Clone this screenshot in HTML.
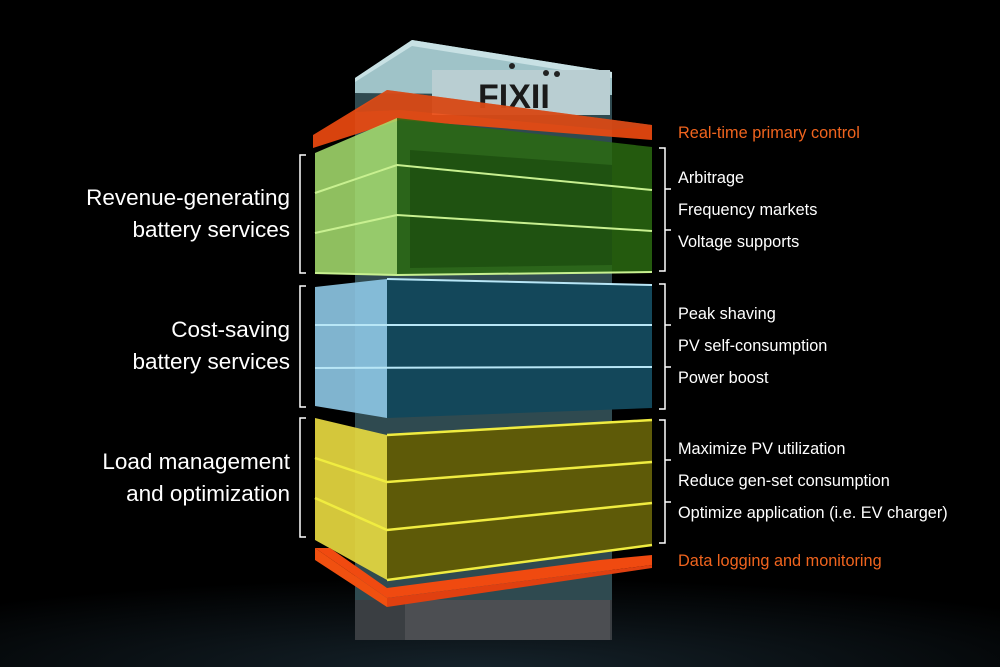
<!DOCTYPE html>
<html><head><meta charset="utf-8"><style>
html,body{margin:0;padding:0;background:#000;overflow:hidden;}
body{width:1000px;height:667px;overflow:hidden;position:relative;font-family:"Liberation Sans",sans-serif;}
svg{display:block;}
.l{position:absolute;right:710px;color:#fff;font-size:22.5px;line-height:32px;text-align:right;white-space:nowrap;}
.r{position:absolute;left:678px;color:#fff;font-size:16.3px;white-space:nowrap;}
.o{color:#f0641e;}
</style></head><body>
<svg width="1000" height="667" viewBox="0 0 1000 667" style="position:absolute;left:0;top:0">
<defs>
<radialGradient id="fl" cx="0.48" cy="1" r="0.7"><stop offset="0" stop-color="#15222a"/><stop offset="1" stop-color="#000"/></radialGradient>
</defs>
<rect x="0" y="540" width="1000" height="127" fill="url(#fl)"/>
<rect x="355" y="90" width="257" height="550" fill="#2f4a50"/>
<rect x="355" y="600" width="257" height="40" fill="#3a3e42"/>
<rect x="405" y="600" width="205" height="40" fill="#4c4e52"/>
<polygon points="355,78 412,40 612,72 612,95 355,93" fill="#9fc3c8"/>
<polygon points="412,40 612,72 612,78 412,46 355,82 355,78" fill="#c8e1e4"/>
<rect x="432" y="70" width="178" height="45" fill="#b9ced2"/>
<text x="478" y="108" font-size="34" font-weight="bold" fill="#1a1a1a" font-family="Liberation Sans">FIXII</text>
<circle cx="512" cy="66" r="3" fill="#222"/><circle cx="546" cy="73" r="3" fill="#222"/><circle cx="557" cy="74" r="3" fill="#222"/>
<polygon points="313,135 387,90 652,125 652,140 400,120 313,148" fill="#f04a10" opacity="0.9"/>
<polygon points="355,112 387,90 652,125 612,130 400,110" fill="#c84a1a" opacity="0.6"/>
<polygon points="315,153 397,118 397,275 315,273" fill="#a8e070" opacity="0.85"/>
<polygon points="397,118 652,147 652,272 397,275" fill="#2a6a10" opacity="0.85"/>
<polygon points="410,150 612,165 612,265 410,268" fill="#1b4a0e" opacity="0.7"/>
<g stroke="#c8f090" stroke-width="2" fill="none"><polyline points="315,193 397,165 652,190"/><polyline points="315,233 397,215 652,231"/><polyline points="315,273 397,275 652,272"/></g>
<polygon points="315,287 387,279 387,418 315,406" fill="#8ec8e6" opacity="0.9"/>
<polygon points="387,279 652,285 652,408 387,418" fill="#13475a"/>
<g stroke="#b8e6f6" stroke-width="2" fill="none"><polyline points="315,325 652,325"/><polyline points="315,368 652,367"/><polyline points="387,279 652,285"/></g>
<polygon points="315,418 387,435 387,580 315,540" fill="#e6d840" opacity="0.92"/>
<polygon points="387,435 652,420 652,545 387,580" fill="#5e5a08"/>
<g stroke="#f0ec40" stroke-width="2.5" fill="none"><polyline points="315,458 387,482 652,462"/><polyline points="315,498 387,530 652,503"/><polyline points="387,435 652,420"/><polyline points="387,580 652,545"/></g>
<polygon points="315,548 387,598 652,565 652,555 600,560 387,588 330,548" fill="#f04a10"/>
<polygon points="315,548 387,598 387,607 315,560" fill="#f05010"/>
<polygon points="387,598 652,565 652,568 387,607" fill="#e04010"/>
<g stroke="#fff" stroke-width="1.5" fill="none">
<polyline points="306,155 300,155 300,273 306,273"/>
<polyline points="306,286 300,286 300,407 306,407"/>
<polyline points="306,418 300,418 300,537 306,537"/>
<polyline points="659,148 665,148 665,271 659,271"/><line x1="665" y1="189" x2="671" y2="189"/><line x1="665" y1="230" x2="671" y2="230"/>
<polyline points="659,284 665,284 665,409 659,409"/><line x1="665" y1="325" x2="671" y2="325"/><line x1="665" y1="367" x2="671" y2="367"/>
<polyline points="659,420 665,420 665,543 659,543"/><line x1="665" y1="460" x2="671" y2="460"/><line x1="665" y1="502" x2="671" y2="502"/>
</g>
</svg>
<div class="l" style="top:182px">Revenue-generating<br>battery services</div>
<div class="l" style="top:314px">Cost-saving<br>battery services</div>
<div class="l" style="top:446px">Load management<br>and optimization</div>
<div class="r o" style="top:124px">Real-time primary control</div>
<div class="r" style="top:169px">Arbitrage</div>
<div class="r" style="top:201px">Frequency markets</div>
<div class="r" style="top:233px">Voltage supports</div>
<div class="r" style="top:305px">Peak shaving</div>
<div class="r" style="top:337px">PV self-consumption</div>
<div class="r" style="top:369px">Power boost</div>
<div class="r" style="top:440px">Maximize PV utilization</div>
<div class="r" style="top:472px">Reduce gen-set consumption</div>
<div class="r" style="top:504px">Optimize application (i.e. EV charger)</div>
<div class="r o" style="top:552px">Data logging and monitoring</div>
</body></html>
